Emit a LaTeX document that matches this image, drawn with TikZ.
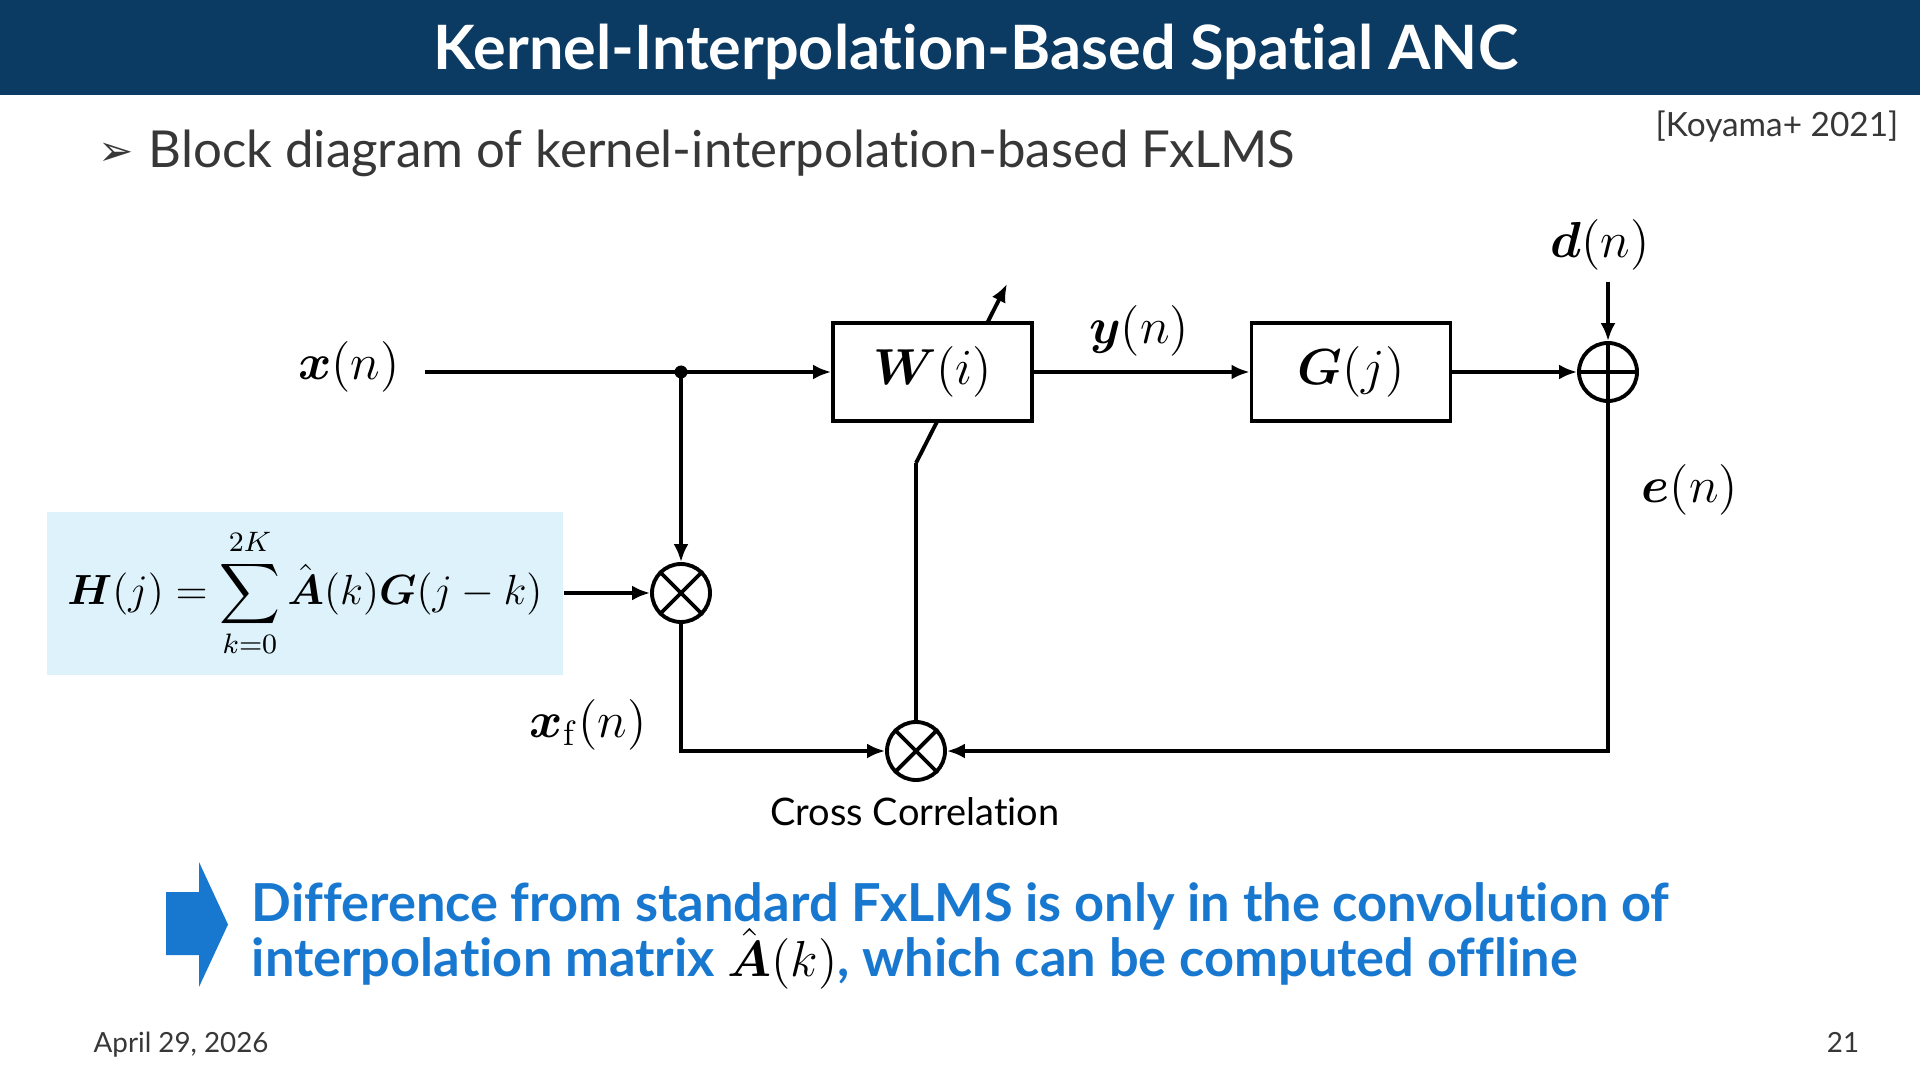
\documentclass[tikz,border=0pt]{standalone}
\usepackage{amsmath,amssymb}
\usepackage[no-math]{fontspec}
\setmainfont{Lato}[Ligatures=NoCommon]
\newfontfamily\symfont{DejaVu Sans}
\usepackage{tikz}
\usetikzlibrary{arrows.meta}
\definecolor{titlebar}{RGB}{11,58,99}
\definecolor{notebl}{RGB}{24,120,208}
\definecolor{hboxbg}{RGB}{221,242,251}
\definecolor{bodytxt}{RGB}{55,55,55}
\tikzset{
  sigarr/.style   = {-{Latex[length=1.8mm,width=1.5mm]},line width=1.1pt},
  sigline/.style  = {line width=1.1pt},
  blockbox/.style = {draw,line width=1.1pt,fill=white,minimum width=1.99cm,
                     minimum height=0.98cm,inner sep=0pt,font=\Large},
  opnode/.style   = {draw,circle,line width=1.1pt,minimum size=0.58cm,inner sep=0pt},
  siglabel/.style = {font=\Large,inner sep=0pt},
  slidetxt/.style = {inner sep=0pt,text=bodytxt},
  notetxt/.style  = {inner sep=0pt,anchor=base west,text=notebl,
                     font=\fontsize{14.9}{18}\selectfont\bfseries}
}

\begin{document}
\begin{tikzpicture}
  \useasboundingbox (0,0) rectangle (19.2,-10.8);
  \fill[titlebar] (0,0) rectangle (19.2,-0.955);
  \node[anchor=base,inner sep=0pt,text=white,font=\fontsize{17.4}{20}\selectfont\bfseries] (title)
        at (9.76,-0.70) {Kernel-Interpolation-Based Spatial ANC};
  \node[slidetxt,anchor=base west,font=\fontsize{12}{14}\selectfont\symfont] (bullet)
        at (0.98,-1.66) {➢};
  \node[slidetxt,anchor=base west,font=\fontsize{14.5}{18}\selectfont] (sub)
        at (1.48,-1.68) {Block diagram of kernel-interpolation-based FxLMS};
  \node[slidetxt,anchor=base east,font=\fontsize{9.5}{12}\selectfont] (cite)
        at (18.99,-1.37) {[Koyama+ 2021]};

  % adaptive weight arrow, behind W(i)
  \coordinate (kink) at (9.16,-4.63);
  \coordinate (tip) at (10.07,-2.84);
  \draw[sigarr] (kink) -- (tip);

  \node[siglabel] (xlab) at (3.49,-3.67) {$\boldsymbol{x}(n)$};
  \coordinate (xs) at (4.25,-3.72);
  \coordinate (split) at (6.81,-3.72);
  \node[blockbox] (W) at (9.325,-3.72) {$\boldsymbol{W}(i)$};
  \node[blockbox] (G) at (13.51,-3.72) {$\boldsymbol{G}(j)$};
  \node[opnode] (sum) at (16.08,-3.72) {};
  \node[siglabel] (ylab) at (11.39,-3.31) {$\boldsymbol{y}(n)$};
  \node[siglabel] (dlab) at (16.0,-2.45) {$\boldsymbol{d}(n)$};
  \coordinate (dtop) at (16.08,-2.82);
  \node[siglabel] (elab) at (16.9,-4.9) {$\boldsymbol{e}(n)$};
  \node[fill=hboxbg,minimum width=5.165cm,minimum height=1.63cm,inner sep=0pt,
        font=\large] (hbox) at (3.05,-5.93)
        {$\displaystyle \boldsymbol{H}(j)=\sum_{k=0}^{2K}\hat{\boldsymbol{A}}(k)\boldsymbol{G}(j-k)$};
  \node[opnode] (mul) at (6.81,-5.93) {};
  \node[opnode] (xcor) at (9.16,-7.51) {};
  \node[siglabel] (xflab) at (5.88,-7.25) {$\boldsymbol{x}_{\mathrm{f}}(n)$};
  \node[anchor=base,inner sep=0pt,font=\fontsize{10.8}{13}\selectfont] (cclab)
        at (9.15,-8.25) {Cross Correlation};

  \fill (split) circle (0.065);
  \draw[sigarr] (xs) -- (W.west);
  \draw[sigarr] (W) -- (G);
  \draw[sigarr] (G) -- (sum);
  \draw[sigarr] (dtop) -- (sum);
  \draw[sigarr] (split) -- (mul);
  \draw[sigarr] (hbox) -- (mul);
  \draw[sigarr] (mul) |- (xcor);
  \draw[sigarr] (sum) |- (xcor);
  \draw[sigline] (xcor) -- (kink);
  \draw[sigline] (sum.north) -- (sum.south) (sum.west) -- (sum.east);
  \draw[sigline] (mul.north west) -- (mul.south east) (mul.north east) -- (mul.south west);
  \draw[sigline] (xcor.north west) -- (xcor.south east) (xcor.north east) -- (xcor.south west);

  \fill[notebl] (1.66,-8.92) -- (1.99,-8.92) -- (1.99,-8.62) -- (2.28,-9.245)
        -- (1.99,-9.87) -- (1.99,-9.55) -- (1.66,-9.55) -- cycle;
  \node[notetxt] (note1) at (2.51,-9.21)
        {Difference from standard FxLMS is only in the convolution of};
  \node[notetxt] (note2) at (2.51,-9.76)
        {interpolation matrix \textcolor{black}{$\hat{\boldsymbol{A}}(k)$}, which can be computed offline};

  \node[slidetxt,anchor=base west,font=\fontsize{7.9}{10}\selectfont] (date)
        at (0.93,-10.52) {April 29, 2026};
  \node[slidetxt,anchor=base,font=\fontsize{7.9}{10}\selectfont] (pgno)
        at (18.43,-10.52) {21};
\end{tikzpicture}
\end{document}
